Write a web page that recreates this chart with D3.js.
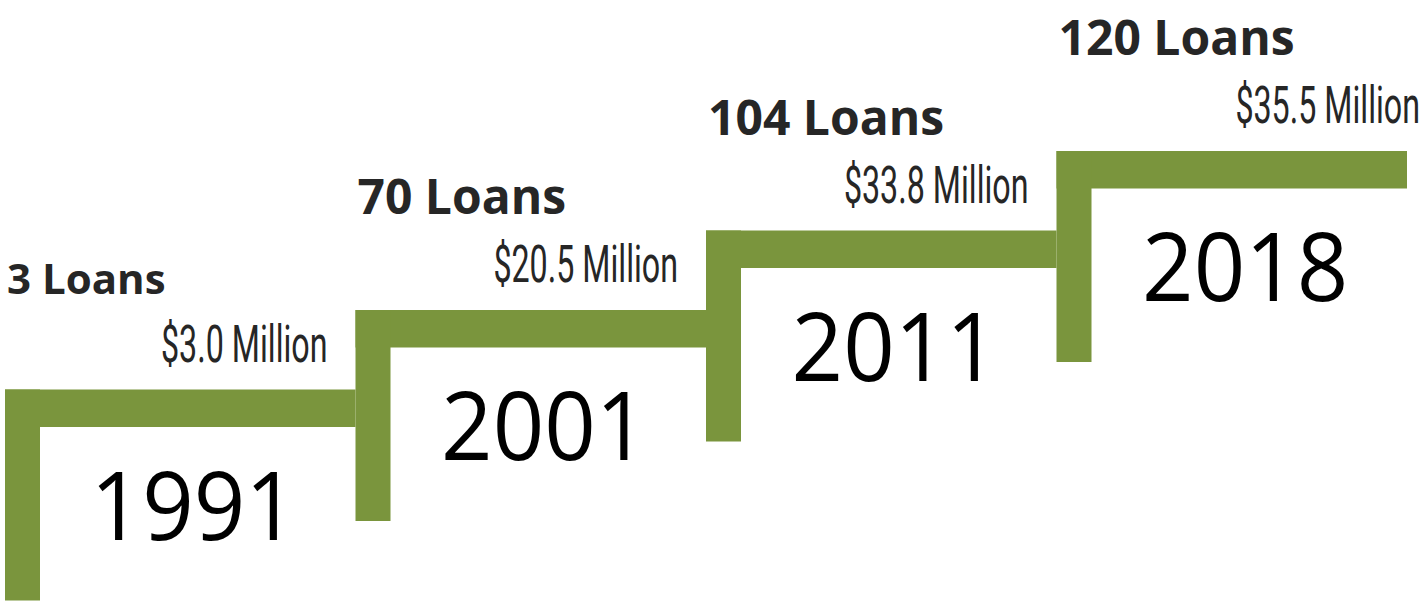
<!DOCTYPE html>
<meta charset="utf-8">
<script src="https://d3js.org/d3.v7.min.js"></script>
<style>
  body { margin: 0; background: #fff; }
</style>
<svg id="stairs" width="1422" height="606"></svg>
<script>
// data
var years = ["1991", "2001", "2011", "2018"];
var loans = [3, 70, 104, 120];
var millions = [3.0, 20.5, 33.8, 35.5];

var svg = d3.select("#stairs"),
    width = +svg.attr("width"),
    height = +svg.attr("height");

var green = "#7a953d";
var riser = 35, tread = 37.5, drop = 211;

// each step gets a band along x, and climbs by index in y
var x = d3.scaleBand().domain(years).range([5, 1407]).paddingInner(0);
var y = d3.scaleLinear().domain([0, years.length - 1]).range([389.5, 151]);

var steps = svg.append("g")
  .selectAll("g")
  .data(years)
  .enter()
  .append("g");

// horizontal part
steps.append("rect")
    .attr("x", function(d){ return x(d) })
    .attr("y", function(d, i){ return y(i) })
    .attr("width", x.bandwidth())
    .attr("height", tread)
    .attr("fill", green);

// vertical part
steps.append("rect")
    .attr("x", function(d){ return x(d) })
    .attr("y", function(d, i){ return y(i) })
    .attr("width", riser)
    .attr("height", drop)
    .attr("fill", green);

// big year inside each step
steps.append("text")
    .attr("transform", function(d, i){
      var cx = x(d) + riser + (x.bandwidth() - riser) / 2 - 4;
      return "translate(" + cx + "," + (y(i) + 150) + ") scale(0.94,1)";
    })
    .attr("text-anchor", "middle")
    .style("font-family", "'Open Sans', sans-serif")
    .style("font-size", "96px")
    .style("fill", "#000")
    .text(function(d){ return d });

// money amount, narrow lettering
steps.append("text")
    .attr("transform", function(d, i){
      var right = i < years.length - 1 ? x(years[i + 1]) - 28 : width - 2;
      return "translate(" + right + "," + (y(i) - 28) + ") scale(0.62,1)";
    })
    .attr("text-anchor", "end")
    .style("font-family", "Roboto, sans-serif")
    .style("font-weight", 400)
    .style("font-size", "52px")
    .style("fill", "#262626")
    .text(function(d, i){ return "$" + millions[i].toFixed(1) + " Million" });

// loan counts
steps.append("text")
    .attr("x", function(d){ return x(d) + 2 })
    .attr("y", function(d, i){ return y(i) - 96 })
    .style("font-family", "'Open Sans', sans-serif")
    .style("font-weight", 700)
    .style("font-size", function(d, i){ return i === 0 ? "42px" : "48px" })
    .style("fill", "#262626")
    .text(function(d, i){ return loans[i] + " Loans" });
</script>
